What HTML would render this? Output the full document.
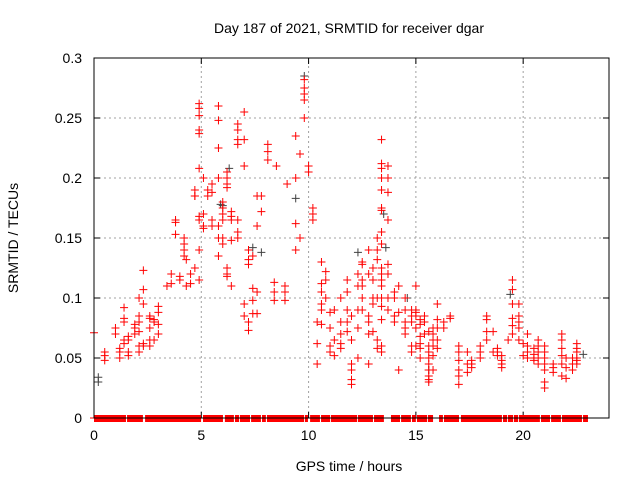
<!DOCTYPE html>
<html><head><meta charset="utf-8"><style>
body{margin:0;background:#fff;}
svg{display:block;font-family:"Liberation Sans",sans-serif;}
</style></head><body>
<svg id="chart" width="640" height="480" viewBox="0 0 640 480" xmlns="http://www.w3.org/2000/svg">
<rect width="640" height="480" fill="#fff"/>
<text x="349" y="33" font-size="14" text-anchor="middle">Day 187 of 2021, SRMTID for receiver dgar</text>
<text x="349" y="471" font-size="14" text-anchor="middle">GPS time / hours</text>
<text transform="translate(18,238) rotate(-90)" font-size="14" text-anchor="middle">SRMTID / TECUs</text>
<g id="grid"></g>
<g id="ticks"></g>
<g id="zero"></g>
<g id="gray"></g>
<g id="red"></g>
<rect x="94" y="58" width="515" height="360" fill="none" stroke="#000" stroke-width="1"/>
</svg>
<script>
const xTicks=[0,5,10,15,20];
const yTicks=[0,0.05,0.1,0.15,0.2,0.25,0.3];
const yTickLabels=["0","0.05","0.1","0.15","0.2","0.25","0.3"];
const redHours=[0,0.5,0.5,0.5,1,1,1.2,1.2,1.2,1.4,1.4,1.4,1.4,1.4,1.6,1.6,1.6,1.6,1.9,1.9,1.9,2.1,2.1,2.1,2.1,2.1,2.1,2.3,2.3,2.3,2.3,2.3,2.6,2.6,2.6,2.6,2.6,2.8,2.8,2.8,3,3,3,3,3.4,3.6,3.6,3.8,3.8,3.8,4,4,4.2,4.2,4.2,4.2,4.3,4.3,4.5,4.5,4.7,4.7,4.7,4.7,4.9,4.9,4.9,4.9,4.9,4.9,4.9,4.9,4.9,4.9,5.1,5.1,5.1,5.1,5.3,5.3,5.5,5.5,5.5,5.5,5.8,5.8,5.8,5.8,5.8,5.8,5.8,6,6,6,6,6,6,6.2,6.2,6.2,6.2,6.2,6.2,6.2,6.4,6.4,6.4,6.4,6.4,6.7,6.7,6.7,6.7,6.7,6.7,6.7,7,7,7,7,7,7.2,7.2,7.2,7.2,7.2,7.4,7.4,7.4,7.4,7.6,7.6,7.6,7.6,7.8,7.8,8.1,8.1,8.1,8.4,8.4,8.4,8.5,8.9,8.9,8.9,9,9.4,9.4,9.4,9.4,9.6,9.6,9.8,9.8,9.8,9.8,9.8,10,10,10.2,10.2,10.2,10.4,10.4,10.4,10.6,10.6,10.6,10.6,10.6,10.6,10.8,10.8,10.8,11,11,11,11,11.2,11.2,11.2,11.5,11.5,11.5,11.5,11.5,11.8,11.8,11.8,11.8,11.8,12,12,12,12,12,12,12.3,12.3,12.3,12.3,12.3,12.5,12.5,12.5,12.5,12.5,12.5,12.8,12.8,12.8,12.8,12.8,12.8,13,13,13,13,13,13,13.2,13.2,13.2,13.2,13.2,13.2,13.4,13.4,13.4,13.4,13.4,13.4,13.4,13.4,13.4,13.4,13.4,13.4,13.4,13.4,13.4,13.4,13.4,13.4,13.7,13.7,13.7,13.7,13.7,13.7,13.7,13.7,14,14,14,14,14.2,14.2,14.2,14.5,14.5,14.5,14.5,14.5,14.8,14.8,14.8,14.8,14.8,15,15,15,15,15,15,15.2,15.2,15.2,15.2,15.2,15.2,15.4,15.4,15.4,15.6,15.6,15.6,15.6,15.6,15.6,15.6,15.6,15.6,15.8,15.8,15.8,15.8,15.8,15.8,16,16,16,16,16,16.3,16.3,16.6,16.6,17,17,17,17,17,17,17.4,17.4,17.4,17.6,17.6,17.6,18,18,18,18.3,18.3,18.3,18.3,18.6,18.6,18.8,18.8,18.8,19,19,19,19,19.3,19.5,19.5,19.5,19.5,19.5,19.5,19.8,19.8,19.8,19.8,19.8,20,20,20.2,20.2,20.2,20.2,20.5,20.5,20.5,20.5,20.7,20.7,20.7,20.7,20.7,21,21,21,21,21,21,21,21.4,21.4,21.4,21.8,21.8,21.8,21.8,21.8,21.8,22,22,22,22.3,22.3,22.3,22.5,22.5,22.5,22.5,22.5,22.5];
const redValues=[0.071,0.048,0.052,0.055,0.07,0.075,0.055,0.058,0.05,0.062,0.065,0.08,0.083,0.092,0.052,0.055,0.068,0.065,0.075,0.078,0.07,0.055,0.06,0.072,0.08,0.1,0.085,0.123,0.107,0.095,0.062,0.06,0.06,0.065,0.075,0.085,0.083,0.08,0.082,0.065,0.093,0.088,0.078,0.07,0.11,0.112,0.12,0.163,0.165,0.153,0.118,0.115,0.14,0.145,0.15,0.135,0.132,0.11,0.12,0.112,0.185,0.19,0.185,0.125,0.262,0.258,0.252,0.24,0.237,0.208,0.168,0.165,0.14,0.115,0.16,0.158,0.2,0.17,0.19,0.185,0.195,0.165,0.16,0.188,0.26,0.248,0.225,0.2,0.16,0.15,0.135,0.18,0.175,0.17,0.165,0.15,0.145,0.205,0.2,0.195,0.192,0.12,0.125,0.118,0.172,0.168,0.165,0.148,0.11,0.245,0.24,0.232,0.228,0.165,0.155,0.15,0.255,0.232,0.21,0.095,0.085,0.14,0.132,0.128,0.08,0.073,0.135,0.108,0.098,0.087,0.185,0.16,0.105,0.087,0.172,0.185,0.228,0.222,0.215,0.113,0.105,0.098,0.21,0.11,0.105,0.098,0.195,0.235,0.2,0.162,0.14,0.22,0.15,0.282,0.275,0.27,0.265,0.25,0.21,0.205,0.175,0.17,0.165,0.08,0.062,0.045,0.13,0.112,0.105,0.095,0.09,0.078,0.122,0.115,0.1,0.088,0.075,0.06,0.055,0.09,0.065,0.052,0.1,0.08,0.07,0.062,0.058,0.115,0.105,0.09,0.08,0.072,0.085,0.065,0.04,0.032,0.028,0.045,0.12,0.11,0.09,0.075,0.05,0.13,0.128,0.115,0.1,0.11,0.09,0.14,0.12,0.085,0.08,0.07,0.045,0.125,0.115,0.1,0.095,0.1,0.072,0.15,0.14,0.132,0.1,0.065,0.058,0.232,0.212,0.208,0.2,0.19,0.175,0.173,0.155,0.145,0.125,0.12,0.115,0.11,0.1,0.093,0.082,0.06,0.055,0.21,0.2,0.188,0.165,0.128,0.12,0.1,0.09,0.105,0.1,0.085,0.08,0.11,0.088,0.04,0.1,0.09,0.08,0.075,0.07,0.09,0.085,0.08,0.06,0.055,0.11,0.09,0.088,0.085,0.075,0.06,0.082,0.078,0.068,0.062,0.058,0.05,0.085,0.08,0.07,0.072,0.06,0.055,0.05,0.045,0.04,0.035,0.032,0.03,0.075,0.07,0.065,0.06,0.052,0.04,0.095,0.082,0.075,0.065,0.058,0.08,0.075,0.085,0.083,0.06,0.055,0.048,0.04,0.035,0.028,0.055,0.045,0.038,0.048,0.045,0.042,0.06,0.055,0.05,0.085,0.082,0.072,0.065,0.072,0.055,0.058,0.055,0.052,0.052,0.048,0.045,0.042,0.065,0.115,0.107,0.095,0.083,0.077,0.07,0.095,0.085,0.08,0.075,0.065,0.062,0.052,0.07,0.06,0.055,0.05,0.058,0.053,0.05,0.048,0.065,0.06,0.055,0.05,0.045,0.06,0.055,0.05,0.045,0.04,0.03,0.025,0.045,0.042,0.038,0.07,0.065,0.058,0.052,0.045,0.035,0.05,0.042,0.033,0.05,0.045,0.04,0.062,0.058,0.055,0.05,0.048,0.045];
const grayHours=[0.2,0.2,9.8,5.9,9.4,13.5,6.3,7.8,7.4,22.8,15.6,19.4,12.3,14.6,6.0,13.6];
const grayValues=[0.03,0.034,0.285,0.178,0.183,0.17,0.208,0.138,0.142,0.053,0.04,0.103,0.138,0.1,0.177,0.142];
const zeroStart=[0,1.54,2.38,5.08,6.10,6.57,6.80,7.32,7.83,8.06,9.83,10.07,10.58,11.04,12.30,13.05,13.84,14.31,14.82,15.05,15.56,16.08,16.31,17.10,19.06,19.29,19.57,19.80,20.83,21.30,21.81,22.79];
const zeroEnd=[1.49,2.28,4.99,6.01,6.52,6.76,7.27,7.78,8.01,9.79,9.97,10.53,11.00,12.26,13.00,13.51,14.26,14.77,15.00,15.52,15.80,16.26,17.01,19.01,19.25,19.53,19.76,20.78,21.25,21.76,22.74,23.02];

const NS="http://www.w3.org/2000/svg";
const X0=94,X1=609,Y0=418,Y1=58,XMAX=24,YMAX=0.3;
function xs(h){return X0+(X1-X0)*h/XMAX;}
function ys(v){return Y0-(Y0-Y1)*v/YMAX;}
function mk(tag,attrs,parent){const e=document.createElementNS(NS,tag);for(const k in attrs)e.setAttribute(k,attrs[k]);parent.appendChild(e);return e;}
const grid=document.getElementById('grid'),ticks=document.getElementById('ticks');
xTicks.forEach(t=>{
  const x=xs(t);
  if(t>0){const l=mk('line',{x1:x,y1:Y0,x2:x,y2:Y1,stroke:'#a0a0a0','stroke-dasharray':'2,3'},grid);
  
  }
  mk('line',{x1:x,y1:Y0,x2:x,y2:Y0-6,stroke:'#000'},ticks);
  mk('line',{x1:x,y1:Y1,x2:x,y2:Y1+6,stroke:'#000'},ticks);
  const tx=mk('text',{x:x,y:Y0+22,'font-size':'14','text-anchor':'middle'},ticks);
  tx.textContent=t;
  
  
});
yTicks.forEach((t,i)=>{
  const y=ys(t);
  if(t>0&&t<YMAX){const l=mk('line',{x1:X0,y1:y,x2:X1,y2:y,stroke:'#a0a0a0','stroke-dasharray':'2,3'},grid);
  
  }
  mk('line',{x1:X0,y1:y,x2:X0+6,y2:y,stroke:'#000'},ticks);
  mk('line',{x1:X1,y1:y,x2:X1-6,y2:y,stroke:'#000'},ticks);
  const tx=mk('text',{x:X0-12,y:y+5,'font-size':'14','text-anchor':'end'},ticks);
  tx.textContent=yTickLabels[i];
  
  
});
function plus(g,h,v,c,name){
  const x=xs(h),y=ys(v);
  const p=mk('path',{d:`M${x-4},${y}H${x+4}M${x},${y-4}V${y+4}`,stroke:c,'stroke-width':'1',fill:'none'},g);
  
  
}
const gg=document.getElementById('gray'),rg=document.getElementById('red'),zg=document.getElementById('zero');
grayHours.forEach((h,i)=>plus(gg,h,grayValues[i],'#404040','gray-point'));
redHours.forEach((h,i)=>plus(rg,h,redValues[i],'#ff0000','red-point'));
const zl=mk('line',{x1:X0-4,y1:Y0,x2:X0,y2:Y0,stroke:'#ff0000'},zg);


zeroStart.forEach((s,i)=>{
  const r=mk('rect',{x:xs(s),y:Y0-3,width:xs(zeroEnd[i])-xs(s),height:7,fill:'#ff0000'},zg);
  
  
});
</script>
</body></html>
